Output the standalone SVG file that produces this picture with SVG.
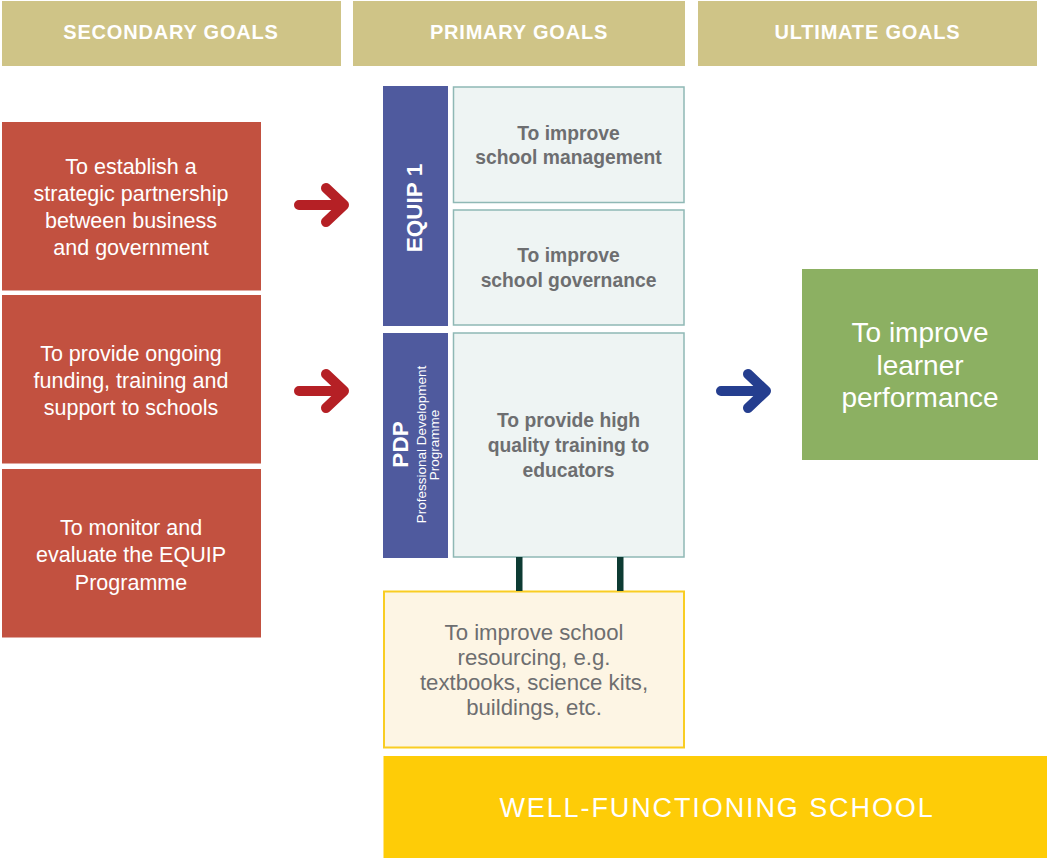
<svg xmlns="http://www.w3.org/2000/svg" width="1047" height="858" viewBox="0 0 1047 858">
  <style>
    .hdr { fill: #cfc487; }
    .hdr-t { font-family: "Liberation Sans", Arial, sans-serif; font-weight: bold; font-size: 20px; fill: #ffffff; text-anchor: middle; letter-spacing: 0.8px; }
    .sec { fill: #c25140; }
    .sec-t { font-family: "Liberation Sans", Arial, sans-serif; font-size: 21.5px; fill: #ffffff; text-anchor: middle; }
    .prog { fill: #4f5a9e; }
    .prog-t { font-family: "Liberation Sans", Arial, sans-serif; font-weight: bold; font-size: 22.5px; fill: #ffffff; text-anchor: middle; }
    .prog-s { font-family: "Liberation Sans", Arial, sans-serif; font-size: 13.5px; fill: #ffffff; text-anchor: middle; }
    .prim { fill: #eef4f3; stroke: #8fb8b5; stroke-width: 1.5; }
    .prim-t { font-family: "Liberation Sans", Arial, sans-serif; font-weight: bold; font-size: 19.3px; fill: #6d6e70; text-anchor: middle; }
    .res { fill: #fdf5e4; stroke: #f9cd23; stroke-width: 2; }
    .res-t { font-family: "Liberation Sans", Arial, sans-serif; font-size: 22.2px; fill: #6d6e70; text-anchor: middle; }
    .ult { fill: #8cb062; }
    .ult-t { font-family: "Liberation Sans", Arial, sans-serif; font-size: 28px; fill: #ffffff; text-anchor: middle; }
    .base { fill: #fecc07; }
    .base-t { font-family: "Liberation Sans", Arial, sans-serif; font-size: 27px; fill: #ffffff; text-anchor: middle; letter-spacing: 1.9px; }
    .arrow { fill: none; stroke-width: 10; stroke-linecap: round; stroke-linejoin: round; }
    .red { stroke: #b52025; }
    .blue { stroke: #253e8f; }
    .post { fill: #0d3b33; }
  </style>

  <rect width="1047" height="858" fill="#ffffff"/>

  <!-- column headings -->
  <g id="hdr-secondary">
    <rect class="hdr" x="2" y="1" width="339" height="65"/>
    <text class="hdr-t" x="171" y="39">SECONDARY GOALS</text>
  </g>
  <g id="hdr-primary">
    <rect class="hdr" x="353" y="1" width="332" height="65"/>
    <text class="hdr-t" x="519" y="39">PRIMARY GOALS</text>
  </g>
  <g id="hdr-ultimate">
    <rect class="hdr" x="698" y="1" width="339" height="65"/>
    <text class="hdr-t" x="867.5" y="39">ULTIMATE GOALS</text>
  </g>

  <!-- secondary goals -->
  <g id="sec-partnership">
    <rect class="sec" x="2" y="122" width="259" height="168.5"/>
    <text class="sec-t" x="131" y="173.5">To establish a</text>
    <text class="sec-t" x="131" y="200.8">strategic partnership</text>
    <text class="sec-t" x="131" y="228">between business</text>
    <text class="sec-t" x="131" y="255.3">and government</text>
  </g>
  <g id="sec-funding">
    <rect class="sec" x="2" y="295" width="259" height="168.5"/>
    <text class="sec-t" x="131" y="361">To provide ongoing</text>
    <text class="sec-t" x="131" y="388">funding, training and</text>
    <text class="sec-t" x="131" y="414.5">support to schools</text>
  </g>
  <g id="sec-monitor">
    <rect class="sec" x="2" y="469" width="259" height="168.5"/>
    <text class="sec-t" x="131" y="534.7">To monitor and</text>
    <text class="sec-t" x="131" y="562">evaluate the EQUIP</text>
    <text class="sec-t" x="131" y="589.5">Programme</text>
  </g>

  <!-- programme bars -->
  <g id="prog-equip">
    <rect class="prog" x="383" y="86" width="65" height="240"/>
    <text class="prog-t" transform="translate(421.5,208) rotate(-90)">EQUIP 1</text>
  </g>
  <g id="prog-pdp">
    <rect class="prog" x="383" y="333" width="65" height="225"/>
    <text class="prog-t" font-size="22" transform="translate(408.3,444.5) rotate(-90)">PDP</text>
    <text class="prog-s" transform="translate(426,444.5) rotate(-90)">Professional Development</text>
    <text class="prog-s" transform="translate(439.3,445) rotate(-90)">Programme</text>
  </g>

  <!-- primary goals -->
  <g id="prim-management">
    <rect class="prim" x="453.5" y="87" width="230.5" height="115.5"/>
    <text class="prim-t" x="568.5" y="140">To improve</text>
    <text class="prim-t" x="568.5" y="163.5">school management</text>
  </g>
  <g id="prim-governance">
    <rect class="prim" x="453.5" y="210" width="230.5" height="115"/>
    <text class="prim-t" x="568.5" y="262">To improve</text>
    <text class="prim-t" x="568.5" y="286.5">school governance</text>
  </g>
  <g id="prim-training">
    <rect class="prim" x="453.5" y="333" width="230.5" height="224"/>
    <text class="prim-t" x="568.5" y="426.5">To provide high</text>
    <text class="prim-t" x="568.5" y="451.5">quality training to</text>
    <text class="prim-t" x="568.5" y="476.5">educators</text>
  </g>
  <g id="prim-resourcing">
    <rect class="res" x="384" y="591.5" width="300" height="156"/>
    <text class="res-t" x="534" y="640">To improve school</text>
    <text class="res-t" x="534" y="665">resourcing, e.g.</text>
    <text class="res-t" x="534" y="690">textbooks, science kits,</text>
    <text class="res-t" x="534" y="714.5">buildings, etc.</text>
  </g>

  <!-- ultimate goal -->
  <g id="ult-performance">
    <rect class="ult" x="802" y="269" width="236" height="191"/>
    <text class="ult-t" x="920" y="341.7">To improve</text>
    <text class="ult-t" x="920" y="374.5">learner</text>
    <text class="ult-t" x="920" y="406.7">performance</text>
  </g>

  <!-- foundation -->
  <g id="base-school">
    <rect class="base" x="383.5" y="756" width="663.5" height="102"/>
    <text class="base-t" x="717" y="816.5">WELL-FUNCTIONING SCHOOL</text>
  </g>

  <!-- connectors -->
  <g id="connectors">
    <path class="arrow red" d="M299 205 H343 M326 188 L344 205 L326 222"/>
    <path class="arrow red" d="M299 391 H343 M326 374 L344 391 L326 408"/>
    <path class="arrow blue" d="M721 391 H765 M748 374 L766 391 L748 408"/>
    <rect class="post" x="516" y="557" width="6.5" height="34"/>
    <rect class="post" x="617" y="557" width="6.5" height="34"/>
  </g>
</svg>
